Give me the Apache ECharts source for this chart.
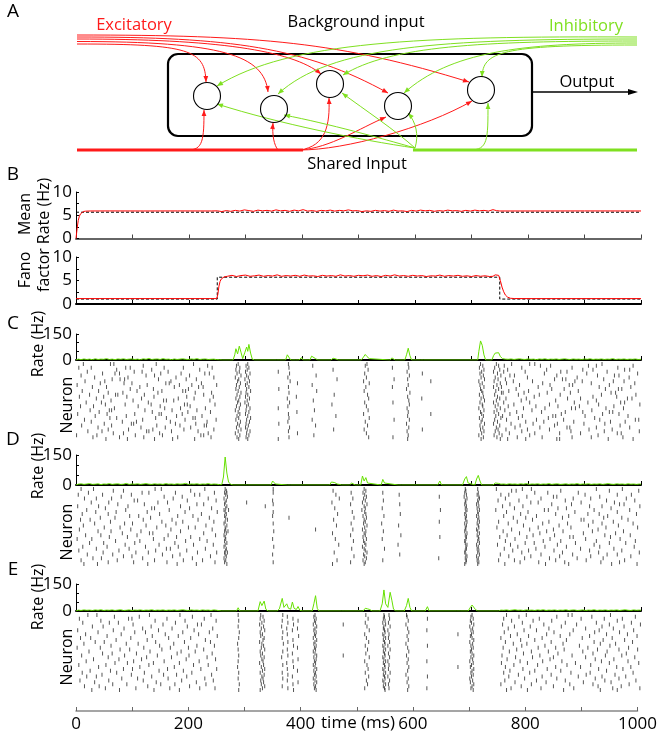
<!DOCTYPE html>
<html><head><meta charset="utf-8">
<script src="https://cdn.jsdelivr.net/npm/echarts/dist/echarts.min.js"></script>
<style>html,body{margin:0;padding:0;background:#fff}#main{width:660px;height:740px}</style>
</head><body><div id="main"></div>
<script>
// ---------------- data ----------------
const timeTicks = [0, 200, 400, 600, 800, 1000];
const rateTicks = [0, 150];
const bTicks = [0, 5, 10];

const meanRate = [[0,0],[2,2.2],[4,3.9],[6,4.8],[8,5.3],[10,5.6],[13,5.8],[17,5.88],[25,5.92],[60,5.93],[120,5.92],[180,5.93],[240,5.92],[250,5.95],[258,5.8],[266,6.0],[274,5.85],[282,6.05],[290,5.9],[298,6.15],[306,6.0],[314,5.85],[322,6.1],[330,5.95],[338,6.05],[346,5.9],[354,6.15],[362,5.95],[370,6.05],[378,5.85],[386,6.1],[394,5.95],[402,6.2],[410,5.9],[418,6.0],[426,5.85],[434,6.05],[442,5.95],[450,6.1],[458,5.9],[466,6.05],[474,5.95],[482,6.15],[490,5.95],[498,6.0],[506,5.8],[514,5.95],[522,5.85],[530,6.05],[538,5.9],[546,6.0],[554,5.85],[562,6.1],[570,5.9],[578,5.95],[586,5.8],[594,6.05],[602,5.9],[610,6.1],[618,5.95],[626,6.05],[634,5.85],[642,6.0],[650,5.9],[658,6.1],[666,5.95],[674,6.0],[682,5.85],[690,6.05],[698,5.9],[706,6.1],[714,5.95],[722,6.05],[730,5.9],[738,6.2],[744,6.0],[750,5.92],[800,5.92],[900,5.93],[1000,5.92]];
const meanRateRef = [[0,5.65],[1000,5.65]];

const fano = [[0,1.15],[249,1.15],[251,2.0],[253,3.8],[255,4.8],[257,5.3],[259,5.6],[262,5.75],[268,5.9],[276,6.1],[284,5.85],[292,6.05],[300,6.15],[308,5.9],[316,6.0],[324,6.15],[332,5.9],[340,6.05],[348,5.95],[356,6.2],[364,5.9],[372,6.05],[380,5.95],[388,6.1],[396,5.9],[404,6.15],[412,5.95],[420,6.0],[428,5.85],[436,6.1],[444,5.95],[452,6.05],[460,5.9],[468,6.2],[476,5.95],[484,6.05],[492,5.9],[500,6.1],[508,6.0],[516,6.15],[524,5.9],[532,6.05],[540,5.85],[548,6.1],[556,5.95],[564,6.2],[572,5.95],[580,6.05],[588,5.9],[596,6.1],[604,5.95],[612,6.05],[620,5.85],[628,6.0],[636,5.95],[644,6.15],[652,5.9],[660,6.05],[668,5.95],[676,6.1],[684,5.9],[692,6.0],[700,5.85],[708,6.05],[716,5.9],[724,6.0],[732,5.85],[738,5.9],[742,6.2],[745,6.6],[748,6.1],[751,5.0],[754,3.6],[757,2.6],[760,1.9],[764,1.45],[769,1.22],[776,1.16],[800,1.15],[1000,1.15]];
const fanoRef = [[0,1.05],[250,1.05],[250,5.7],[750,5.7],[750,1.05],[1000,1.05]];

const rateC = [[0,0],[4,5],[9,2],[14,6],[19,3],[24,5],[29,2],[34,7],[39,3],[44,5],[49,4],[54,8],[59,3],[64,5],[69,2],[74,6],[79,4],[84,7],[89,3],[94,5],[99,6],[104,3],[109,5],[114,2],[119,7],[124,4],[129,9],[134,3],[139,5],[144,6],[149,3],[154,8],[159,4],[164,5],[169,2],[174,6],[179,3],[184,5],[189,7],[194,4],[199,3],[204,6],[209,4],[214,8],[219,3],[224,5],[229,6],[234,3],[239,4],[244,5],[249,2],[254,1],[260,0],[278,0],[281,30],[283,65],[286,35],[289,80],[292,45],[295,8],[299,45],[302,75],[304,50],[306,90],[309,40],[312,5],[316,0],[355,0],[358,10],[361,0],[371,0],[374,30],[377,22],[380,0],[389,0],[392,8],[395,0],[397,0],[399,14],[402,0],[414,0],[417,22],[420,12],[424,8],[428,0],[451,0],[455,10],[460,6],[464,0],[505,0],[509,18],[512,32],[515,20],[519,8],[522,0],[556,0],[559,12],[562,20],[565,0],[582,0],[585,30],[588,68],[591,25],[594,0],[610,0],[612,6],[615,0],[711,0],[713,50],[716,110],[719,85],[722,30],[725,0],[736,0],[739,25],[742,40],[745,38],[748,42],[751,20],[755,8],[760,5],[765,4],[770,6],[775,3],[780,5],[785,7],[790,4],[795,3],[800,6],[805,4],[810,5],[815,2],[820,6],[825,4],[830,7],[835,3],[840,5],[845,4],[850,6],[855,3],[860,5],[865,7],[870,4],[875,3],[880,6],[885,4],[890,5],[895,3],[900,6],[905,4],[910,7],[915,3],[920,5],[925,4],[930,6],[935,3],[940,5],[945,4],[950,8],[955,3],[960,5],[965,4],[970,6],[975,3],[980,5],[985,4],[990,6],[995,3],[1000,4]];

const rateD = [[0,0],[4,4],[9,6],[14,3],[19,5],[24,7],[29,3],[34,4],[39,6],[44,2],[49,5],[54,4],[59,7],[64,3],[69,5],[74,6],[79,3],[84,4],[89,8],[94,3],[99,5],[104,4],[109,6],[114,3],[119,5],[124,7],[129,4],[134,3],[139,6],[144,4],[149,5],[154,3],[159,7],[164,4],[169,5],[174,3],[179,6],[184,4],[189,5],[194,8],[199,3],[204,5],[209,4],[214,6],[219,3],[224,5],[229,4],[234,7],[239,3],[244,5],[249,4],[254,2],[258,2],[261,40],[264,140],[267,60],[270,15],[274,3],[278,0],[300,0],[302,4],[304,0],[345,0],[348,20],[350,27],[353,5],[356,0],[374,0],[377,7],[380,0],[449,0],[452,15],[455,8],[458,12],[462,5],[466,3],[470,0],[484,0],[488,10],[491,5],[494,0],[504,0],[507,45],[510,20],[513,37],[516,10],[519,0],[540,0],[543,28],[546,10],[549,0],[570,0],[573,6],[576,0],[640,0],[644,20],[647,0],[684,0],[688,30],[691,42],[694,10],[697,0],[706,0],[709,30],[712,48],[715,20],[718,0],[738,0],[742,10],[745,20],[748,8],[752,4],[757,5],[762,3],[767,6],[772,4],[777,5],[782,3],[787,6],[792,4],[797,7],[802,3],[807,5],[812,4],[817,6],[822,3],[827,5],[832,4],[837,7],[842,3],[847,5],[852,6],[857,3],[862,4],[867,6],[872,3],[877,5],[882,4],[887,7],[892,3],[897,5],[902,4],[907,6],[912,3],[917,5],[922,4],[927,6],[932,3],[937,5],[942,7],[947,4],[952,3],[957,6],[962,4],[967,5],[972,3],[977,6],[982,4],[987,5],[992,3],[997,5],[1000,4]];

const rateE = [[0,0],[4,5],[9,3],[14,6],[19,4],[24,5],[29,3],[34,6],[39,4],[44,7],[49,3],[54,5],[59,4],[64,6],[69,3],[74,5],[79,7],[84,3],[89,4],[94,6],[99,3],[104,5],[109,4],[114,6],[119,3],[124,5],[129,4],[134,7],[139,3],[144,5],[149,4],[154,6],[159,3],[164,5],[169,4],[174,6],[179,3],[184,5],[189,7],[194,4],[199,3],[204,6],[209,4],[214,5],[219,3],[224,6],[229,4],[234,5],[239,3],[244,6],[249,4],[253,2],[258,0],[284,0],[287,18],[290,0],[322,0],[326,52],[329,30],[333,55],[336,10],[340,0],[356,0],[360,12],[365,70],[368,20],[373,40],[376,15],[380,10],[383,50],[386,15],[390,8],[393,25],[396,5],[400,0],[418,0],[421,40],[424,85],[427,15],[430,0],[470,0],[473,8],[476,0],[508,0],[512,15],[516,12],[520,8],[524,0],[538,0],[542,40],[545,117],[548,40],[552,20],[556,104],[559,60],[562,10],[566,0],[581,0],[585,30],[588,70],[591,20],[594,0],[618,0],[622,24],[625,0],[674,0],[677,6],[680,0],[694,0],[698,20],[701,33],[704,25],[707,8],[711,0],[748,0],[752,5],[757,4],[762,6],[767,3],[772,5],[777,7],[782,4],[787,5],[792,3],[797,6],[802,4],[807,5],[812,3],[817,6],[822,4],[827,7],[832,3],[837,5],[842,4],[847,6],[852,3],[857,5],[862,4],[867,7],[872,3],[877,5],[882,6],[887,3],[892,4],[897,6],[902,3],[907,5],[912,4],[917,7],[922,3],[927,5],[932,4],[937,6],[942,3],[947,5],[952,4],[957,6],[962,3],[967,5],[972,7],[977,4],[982,3],[987,6],[992,4],[997,5],[1000,4]];

// raster: one array of spike times (ms) per neuron row
const rasterC = [
[13,61,67,142,208,287,304,376,515,588,716,744,771,803,812,931],
[119,233,284,301,419,512,720,748,758,822,840,907,921,986],
[5,27,88,96,156,190,241,290,306,377,560,589,714,741,789,878,959],
[72,134,219,283,303,455,517,722,750,764,833,897,915,971,980],
[20,103,117,163,289,300,358,586,718,739,757,795,858,869,940],
[47,69,77,150,186,228,236,285,308,378,511,613,715,746,829,904,994],
[9,124,139,201,292,302,425,590,721,752,768,776,851,923,953,961],
[33,92,177,244,282,305,375,514,717,742,799,887,979],
[64,78,86,146,195,213,288,299,462,563,587,723,747,760,847,861,867,934],
[16,51,168,286,307,379,509,628,713,740,774,808,883,896,951,970],
[43,85,99,159,165,222,291,303,392,519,719,751,762,826,912,989],
[2,126,183,205,249,284,300,418,588,715,745,785,839,873,879,944],
[29,54,113,174,217,225,289,306,376,513,560,722,739,753,818,926,982],
[96,137,199,283,302,359,585,716,748,779,842,864,937,960,966],
[11,40,108,152,189,194,287,309,426,510,718,743,766,801,889],
[57,83,145,211,240,292,301,377,591,720,753,756,793,834,875,947,955],
[24,70,74,121,226,285,304,457,516,714,741,783,820,857,930,991],
[6,49,90,138,196,243,290,300,390,587,721,746,811,915,957],
[36,116,181,209,283,307,374,518,612,717,750,761,797,870,893,976,984],
[62,101,155,160,173,237,288,303,420,589,723,744,788,849,921],
[18,45,128,286,299,378,511,561,715,739,757,803,882,906,964,971],
[52,87,133,192,197,246,291,305,453,590,719,747,775,838,925,998],
[8,31,110,149,202,284,302,375,514,720,742,765,814,853,891,952],
[68,157,185,229,289,308,358,586,713,751,792,830,877,884,938,969],
[25,59,63,122,170,214,282,301,422,517,722,745,759,807,913],
[41,135,198,238,287,306,391,588,716,740,780,824,866,897,944,950],
[3,55,104,147,151,188,290,300,376,509,628,718,748,768,859,932,961],
[34,89,178,223,285,304,460,587,721,743,755,790,844,849,901,977],
[60,72,141,160,207,211,288,309,377,519,714,752,783,836,918],
[15,118,193,248,283,302,418,563,590,719,741,762,815,863,927,990,996],
[27,82,107,167,232,291,307,375,512,717,746,796,828,881,946,972],
[50,98,102,176,212,286,301,359,585,723,739,770,809,852,899,936],
[10,63,143,184,227,231,289,305,424,516,715,750,786,847,963],
[39,115,158,203,284,300,378,589,720,744,777,821,869,874,921,980],
[57,93,136,191,244,292,303,456,510,613,716,747,761,799,838,908,949],
[21,46,125,129,169,216,287,308,376,586,722,742,789,876,935,997],
[66,84,148,234,282,302,392,514,718,749,767,812,856,893,958,965],
[1,37,105,153,221,226,290,306,421,588,713,740,754,803,924],
[30,77,120,180,239,285,301,377,518,561,721,745,781,825,878,912,968],
[53,91,139,171,210,288,304,358,587,717,751,764,796,851,856,942,986]
];
const rasterD = [
[9,31,140,151,228,264,349,510,689,711,744,790,806,921,967],
[66,84,203,266,455,513,690,771,779,858,944,996],
[22,117,129,176,245,263,267,349,487,508,543,688,712,812,835,889],
[4,47,98,210,219,265,460,511,572,691,710,752,766,901,958,983],
[80,156,188,268,514,643,687,713,798,845,851,927],
[15,36,63,172,234,262,466,490,509,692,714,760,823,880,911,974],
[103,109,197,248,266,348,512,544,689,711,747,784,866,939,989],
[27,58,145,162,264,302,453,507,690,712,805,818,894,953],
[74,121,214,226,263,349,486,515,573,688,709,768,842,877,962,970],
[3,40,92,185,267,335,510,691,713,755,791,909,931,998],
[52,134,139,201,240,265,458,512,542,689,710,776,853,868,947],
[19,88,165,262,270,506,645,692,714,743,829,836,917,980],
[35,71,126,193,250,264,349,489,511,690,711,762,800,883,958],
[11,57,148,222,266,463,513,574,688,712,787,849,906,926,992],
[95,111,180,207,263,348,508,545,691,709,757,815,872,941],
[43,69,132,236,265,377,492,514,689,713,774,796,861,934,966],
[8,25,119,170,216,268,456,510,690,711,808,894,899,977],
[61,152,189,244,264,512,643,692,714,748,781,837,915,951],
[33,86,100,177,262,349,487,509,541,688,710,765,826,870,931,986],
[13,124,159,230,267,461,515,571,691,712,792,855,907,960],
[50,78,143,199,211,264,511,689,713,745,818,876,938,994],
[6,97,168,241,265,424,490,507,690,709,771,803,845,924],
[39,62,115,185,263,269,350,513,544,688,711,756,833,862,914,969],
[82,130,136,226,266,454,510,692,714,785,821,898,955],
[17,44,108,163,247,262,486,512,575,689,710,763,809,847,936,981],
[59,91,178,203,264,508,644,691,712,750,798,874,880,946],
[2,28,137,156,219,265,348,459,514,542,690,713,777,839,902,963],
[70,113,194,232,263,491,509,688,711,760,827,858,921,990],
[24,49,104,175,267,511,689,714,795,811,884,944,973],
[87,147,208,243,264,465,513,570,692,709,746,769,852,917],
[12,55,123,181,262,350,507,690,712,782,830,868,927,988],
[36,94,160,167,229,266,488,510,546,691,710,758,814,893,952],
[5,76,141,196,265,512,689,713,773,801,846,909,966],
[48,106,128,215,249,263,268,457,515,688,711,789,861,925,997],
[20,65,153,184,264,348,509,573,690,714,751,823,879,940,958],
[84,99,171,238,266,492,511,692,709,766,805,856,911,982],
[30,45,118,206,262,514,642,689,712,794,838,887,933],
[9,73,139,190,224,265,462,508,543,691,710,748,776,849,903,971],
[57,102,161,246,263,349,486,512,690,713,786,819,865,929,962],
[14,38,127,179,213,267,454,510,688,711,759,831,872,948,993]
];
const rasterE = [
[21,37,130,184,239,287,327,366,423,513,545,554,585,701,762,797,871,878,946],
[68,112,206,331,374,421,546,586,699,784,851,913,990],
[6,93,99,161,227,326,384,425,517,544,555,622,703,757,820,894,935,967],
[44,140,193,248,288,333,365,393,422,547,588,698,771,809,842,958],
[12,59,75,176,329,375,424,512,543,553,700,790,866,921,983],
[101,154,215,222,325,385,420,473,548,584,704,755,828,886,944,999],
[29,48,133,197,287,332,364,426,515,545,556,697,776,804,859,931,970],
[85,118,170,242,328,373,392,423,544,587,702,765,837,902,951],
[3,66,146,209,334,383,421,519,546,552,621,699,793,815,880,926,987],
[39,104,123,189,236,289,326,366,425,547,589,703,758,846,918,962],
[17,80,158,217,330,374,422,511,543,554,676,700,781,833,874,939,976],
[55,135,181,250,327,394,424,545,586,698,769,801,857,909,993],
[8,26,97,164,203,288,333,365,420,514,548,553,701,752,825,896,949],
[71,126,229,331,384,426,544,588,704,787,812,868,933,971],
[34,50,141,192,238,325,375,423,518,546,555,697,760,841,917,985],
[14,89,110,173,286,329,367,421,547,584,702,774,798,862,928,955],
[62,148,214,245,332,385,425,512,543,552,622,699,789,830,891,945],
[2,43,120,167,199,328,392,422,545,587,703,756,818,849,906,978],
[78,95,152,226,287,334,374,424,516,548,556,700,780,864,923,961,994],
[23,131,186,211,326,366,420,544,589,698,767,806,836,897,940],
[47,64,107,179,241,330,383,423,513,546,553,701,792,853,915,974],
[10,86,144,200,288,327,375,426,473,547,585,704,754,821,878,937,966],
[57,125,169,232,333,364,421,519,543,555,699,778,808,845,902,989],
[31,76,116,195,247,329,393,425,545,588,702,763,839,919,952],
[18,102,156,218,287,331,384,422,511,548,552,621,697,786,826,860,930,977],
[69,91,137,183,325,373,424,544,586,703,753,799,884,944,996],
[5,53,129,208,234,332,366,420,515,546,554,700,775,817,869,911],
[40,113,174,286,328,385,423,547,589,676,698,760,849,893,957,982],
[84,100,162,221,249,334,374,426,517,543,553,704,791,834,925,968],
[25,61,147,190,330,392,421,545,587,701,768,812,858,939],
[11,72,121,205,288,326,365,424,512,548,556,699,757,803,876,910,986],
[46,98,155,178,240,333,375,422,544,584,703,783,841,903,954],
[19,36,134,196,329,383,425,518,546,552,622,700,766,825,889,931,973],
[81,109,163,228,287,331,366,420,547,588,697,794,851,919,961],
[7,58,119,187,243,327,374,423,514,543,555,702,759,815,866,936,991],
[33,142,213,332,393,426,545,586,698,777,832,898,947],
[65,90,150,175,230,289,328,384,421,516,548,553,704,752,806,874,915,979],
[15,41,127,201,334,365,424,544,589,701,788,845,924,965],
[52,106,166,219,246,330,375,422,511,546,554,621,699,770,823,881,950,998],
[28,77,138,183,288,326,385,425,547,587,703,762,799,863,928,958]
];

// ---------------- chart ----------------
const FONT = '"Open Sans", "DejaVu Sans", sans-serif';
const RED = '#ff1a1a', GREEN = '#7fe020', LGREEN = '#66e000';
const NROWS = 40;

function spikes(raster){ const out=[]; raster.forEach((row,i)=>row.forEach(t=>out.push([t,i]))); return out; }

const grids = [
  {top:192, height:46.5},  // 0 mean rate
  {top:257, height:47},    // 1 fano
  {top:334, height:26},    // 2 rate C
  {top:362, height:79},    // 3 raster C
  {top:455, height:30},    // 4 rate D
  {top:487, height:79},    // 5 raster D
  {top:584, height:27},    // 6 rate E
  {top:613, height:79},    // 7 raster E
  {top:700, height:11}     // 8 time axis
].map(g=>Object.assign({left:76, width:565, containLabel:false}, g));

function xAx(i, opts){
  return Object.assign({
    type:'value', gridIndex:i, min:0, max:1000, interval:100,
    axisLine:{show:true, onZero:false, lineStyle:{color:'#000', width:2}},
    axisTick:{show:true, inside:true, length:4, lineStyle:{color:'#000', width:1}},
    axisLabel:{show:false}, splitLine:{show:false}
  }, opts||{});
}
const xAxes = [
  xAx(0,{axisLine:{show:true,onZero:false,lineStyle:{color:'#666',width:2}},axisTick:{show:true,inside:true,length:4,lineStyle:{color:'#444'}}}),
  xAx(1,{axisLine:{show:true,onZero:false,lineStyle:{color:'#000',width:2}}}),
  xAx(2), xAx(3,{show:false}), xAx(4), xAx(5,{show:false}), xAx(6), xAx(7,{show:false}),
  xAx(8,{axisLine:{show:true,onZero:false,lineStyle:{color:'#888',width:1.5}},
         axisTick:{show:true,inside:true,length:4,lineStyle:{color:'#666'}},
         axisLabel:{show:true, margin:5, color:'#000', fontFamily:FONT, fontSize:17,
           formatter:v=>timeTicks.includes(v)?String(v):''}})
];
function yVal(i, max, interval, ticks){
  return {type:'value', gridIndex:i, min:0, max:max, interval:interval,
    axisLine:{show:true, lineStyle:{color:'#000', width:1}},
    axisTick:{show:true, inside:true, length:3, lineStyle:{color:'#000'}},
    axisLabel:{show:true, margin:4, color:'#000', fontFamily:FONT, fontSize:17,
      formatter:v=>ticks.includes(v)?String(v):''},
    splitLine:{show:false}};
}
function yRaster(i){ return {type:'value', gridIndex:i, min:-1, max:NROWS, inverse:true, show:false}; }
const yAxes = [
  yVal(0,10,2.5,bTicks), yVal(1,10,2.5,bTicks),
  yVal(2,150,50,rateTicks), yRaster(3),
  yVal(4,150,50,rateTicks), yRaster(5),
  yVal(6,150,50,rateTicks), yRaster(7),
  {type:'value', gridIndex:8, min:0, max:1, show:false}
];

function lineS(data, xi, color, dashed, w){
  return {type:'line', data:data, xAxisIndex:xi, yAxisIndex:xi, symbol:'none', silent:true,
    lineStyle:{color:color, width:w||1, type:dashed?[3,2]:'solid'}, z:dashed?2:3};
}
function rasterS(data, xi){
  return {type:'scatter', data:spikes(data), xAxisIndex:xi, yAxisIndex:xi, symbol:'rect',
    symbolSize:[1,4], itemStyle:{color:'#2a2a2a'}, silent:true};
}
const series = [
  lineS(meanRateRef,0,'#000',true), lineS(meanRate,0,'#ff0000',false),
  lineS(fanoRef,1,'#000',true), lineS(fano,1,'#ff0000',false),
  lineS(rateC,2,LGREEN,false), rasterS(rasterC,3),
  lineS(rateD,4,LGREEN,false), rasterS(rasterD,5),
  lineS(rateE,6,LGREEN,false), rasterS(rasterE,7)
];

// ---------------- schematic & labels (graphic) ----------------
const G = [];
function txt(s, x, y, size, color, rot){
  G.push({type:'text', x:x, y:y, rotation:rot||0, silent:true,
    style:{text:s, x:0, y:0, fill:color||'#000', font:(size||16)+'px '+FONT,
      align:'center', verticalAlign:'middle', textAlign:'center', textVerticalAlign:'middle'}});
}
function arrowCurve(p, color, w){
  G.push({type:'bezierCurve', silent:true,
    shape:{x1:p[0],y1:p[1],cpx1:p[2],cpy1:p[3],cpx2:p[4],cpy2:p[5],x2:p[6],y2:p[7]},
    style:{stroke:color, lineWidth:w||1, fill:null}});
  const dx=p[6]-p[4], dy=p[7]-p[5], L=Math.hypot(dx,dy)||1, ux=dx/L, uy=dy/L;
  const len=6, hw=2.4, bx=p[6]-ux*len, by=p[7]-uy*len;
  G.push({type:'polygon', silent:true, shape:{points:[[p[6],p[7]],[bx-uy*hw,by+ux*hw],[bx+uy*hw,by-ux*hw]]},
    style:{fill:color}});
}
// box
G.push({type:'rect', silent:true, shape:{x:168,y:54,width:364,height:82,r:10},
  style:{fill:null, stroke:'#000', lineWidth:2.2}});
// background input lines (red, from left)
arrowCurve([77,35, 260,35, 340,42, 469,82], RED);
arrowCurve([77,37, 230,37, 305,47, 388,93], RED);
arrowCurve([77,39, 215,39, 292,50, 321,74], RED);
arrowCurve([77,41.5, 222,41.5, 264,55, 268,92], RED);
arrowCurve([77,44, 190,44, 205,50, 206,82], RED);
// background input lines (green, from right)
arrowCurve([637,45, 500,45, 483,52, 482,77], GREEN);
arrowCurve([637,43, 520,43, 450,52, 404,93], GREEN);
arrowCurve([637,41, 480,41, 390,46, 343,75], GREEN);
arrowCurve([637,39, 440,39, 330,46, 278,94], GREEN);
arrowCurve([637,37, 420,36, 290,41, 217,86], GREEN);
// shared input thick lines
G.push({type:'line', silent:true, shape:{x1:77,y1:150,x2:303,y2:150}, style:{stroke:RED, lineWidth:3.2}});
G.push({type:'line', silent:true, shape:{x1:413,y1:150,x2:637,y2:150}, style:{stroke:GREEN, lineWidth:3.2}});
// shared red
arrowCurve([188,150, 203,150, 204,140, 204,110], RED);
arrowCurve([278,150, 274,145, 272,135, 273,123], RED);
arrowCurve([300,150, 326,146, 330,125, 329,98], RED);
arrowCurve([300,150, 330,148, 360,128, 386,117], RED);
arrowCurve([300,150, 345,150, 425,128, 472,101], RED);
// shared green
arrowCurve([415,148, 360,140, 280,124, 217,104], GREEN);
arrowCurve([415,148, 380,138, 330,124, 284,115], GREEN);
arrowCurve([415,148, 395,130, 365,110, 342,93], GREEN);
arrowCurve([415,148, 419,135, 416,122, 408,113], GREEN);
arrowCurve([470,150, 488,150, 488,140, 488,103], GREEN);
// neurons
[[207,96],[274,109],[330,84],[398,106],[481,90]].forEach(c=>{
  G.push({type:'circle', silent:true, shape:{cx:c[0],cy:c[1],r:13.5}, style:{fill:null, stroke:'#000', lineWidth:1.1}});
});
// output arrow
G.push({type:'line', silent:true, shape:{x1:532,y1:92,x2:632,y2:92}, style:{stroke:'#000', lineWidth:1.3}});
G.push({type:'polygon', silent:true, shape:{points:[[638,92],[628,89],[628,95]]}, style:{fill:'#000'}});
// texts
txt('Excitatory', 134, 25, 16.5, RED);
txt('Background input', 356, 22, 16.5, '#000');
txt('Inhibitory', 586, 26, 16.5, GREEN);
txt('Output', 587, 82, 16.5, '#000');
txt('Shared Input', 357, 164, 16.5, '#000');
// panel letters
txt('A', 13, 12, 19); txt('B', 13, 175, 19); txt('C', 13, 324, 19); txt('D', 13, 440, 19); txt('E', 13, 570, 19);
// axis titles
const R90 = Math.PI/2;
txt('Mean', 25, 214, 16, '#000', R90); txt('Rate (Hz)', 44, 211, 16, '#000', R90);
txt('Fano', 25, 270, 16, '#000', R90); txt('factor', 44, 270, 16, '#000', R90);
txt('Rate (Hz)', 38, 344, 16, '#000', R90); txt('Neuron', 67, 405, 16, '#000', R90);
txt('Rate (Hz)', 38, 466, 16, '#000', R90); txt('Neuron', 67, 532, 16, '#000', R90);
txt('Rate (Hz)', 38, 597, 16, '#000', R90); txt('Neuron', 67, 657, 16, '#000', R90);
txt('time (ms)', 358, 723, 17, '#000');

const chart = echarts.init(document.getElementById('main'), null, {renderer:'canvas'});
chart.setOption({
  animation:false, backgroundColor:'#fff',
  textStyle:{fontFamily:FONT},
  grid:grids, xAxis:xAxes, yAxis:yAxes, series:series, graphic:{elements:G}
});
</script></body></html>
